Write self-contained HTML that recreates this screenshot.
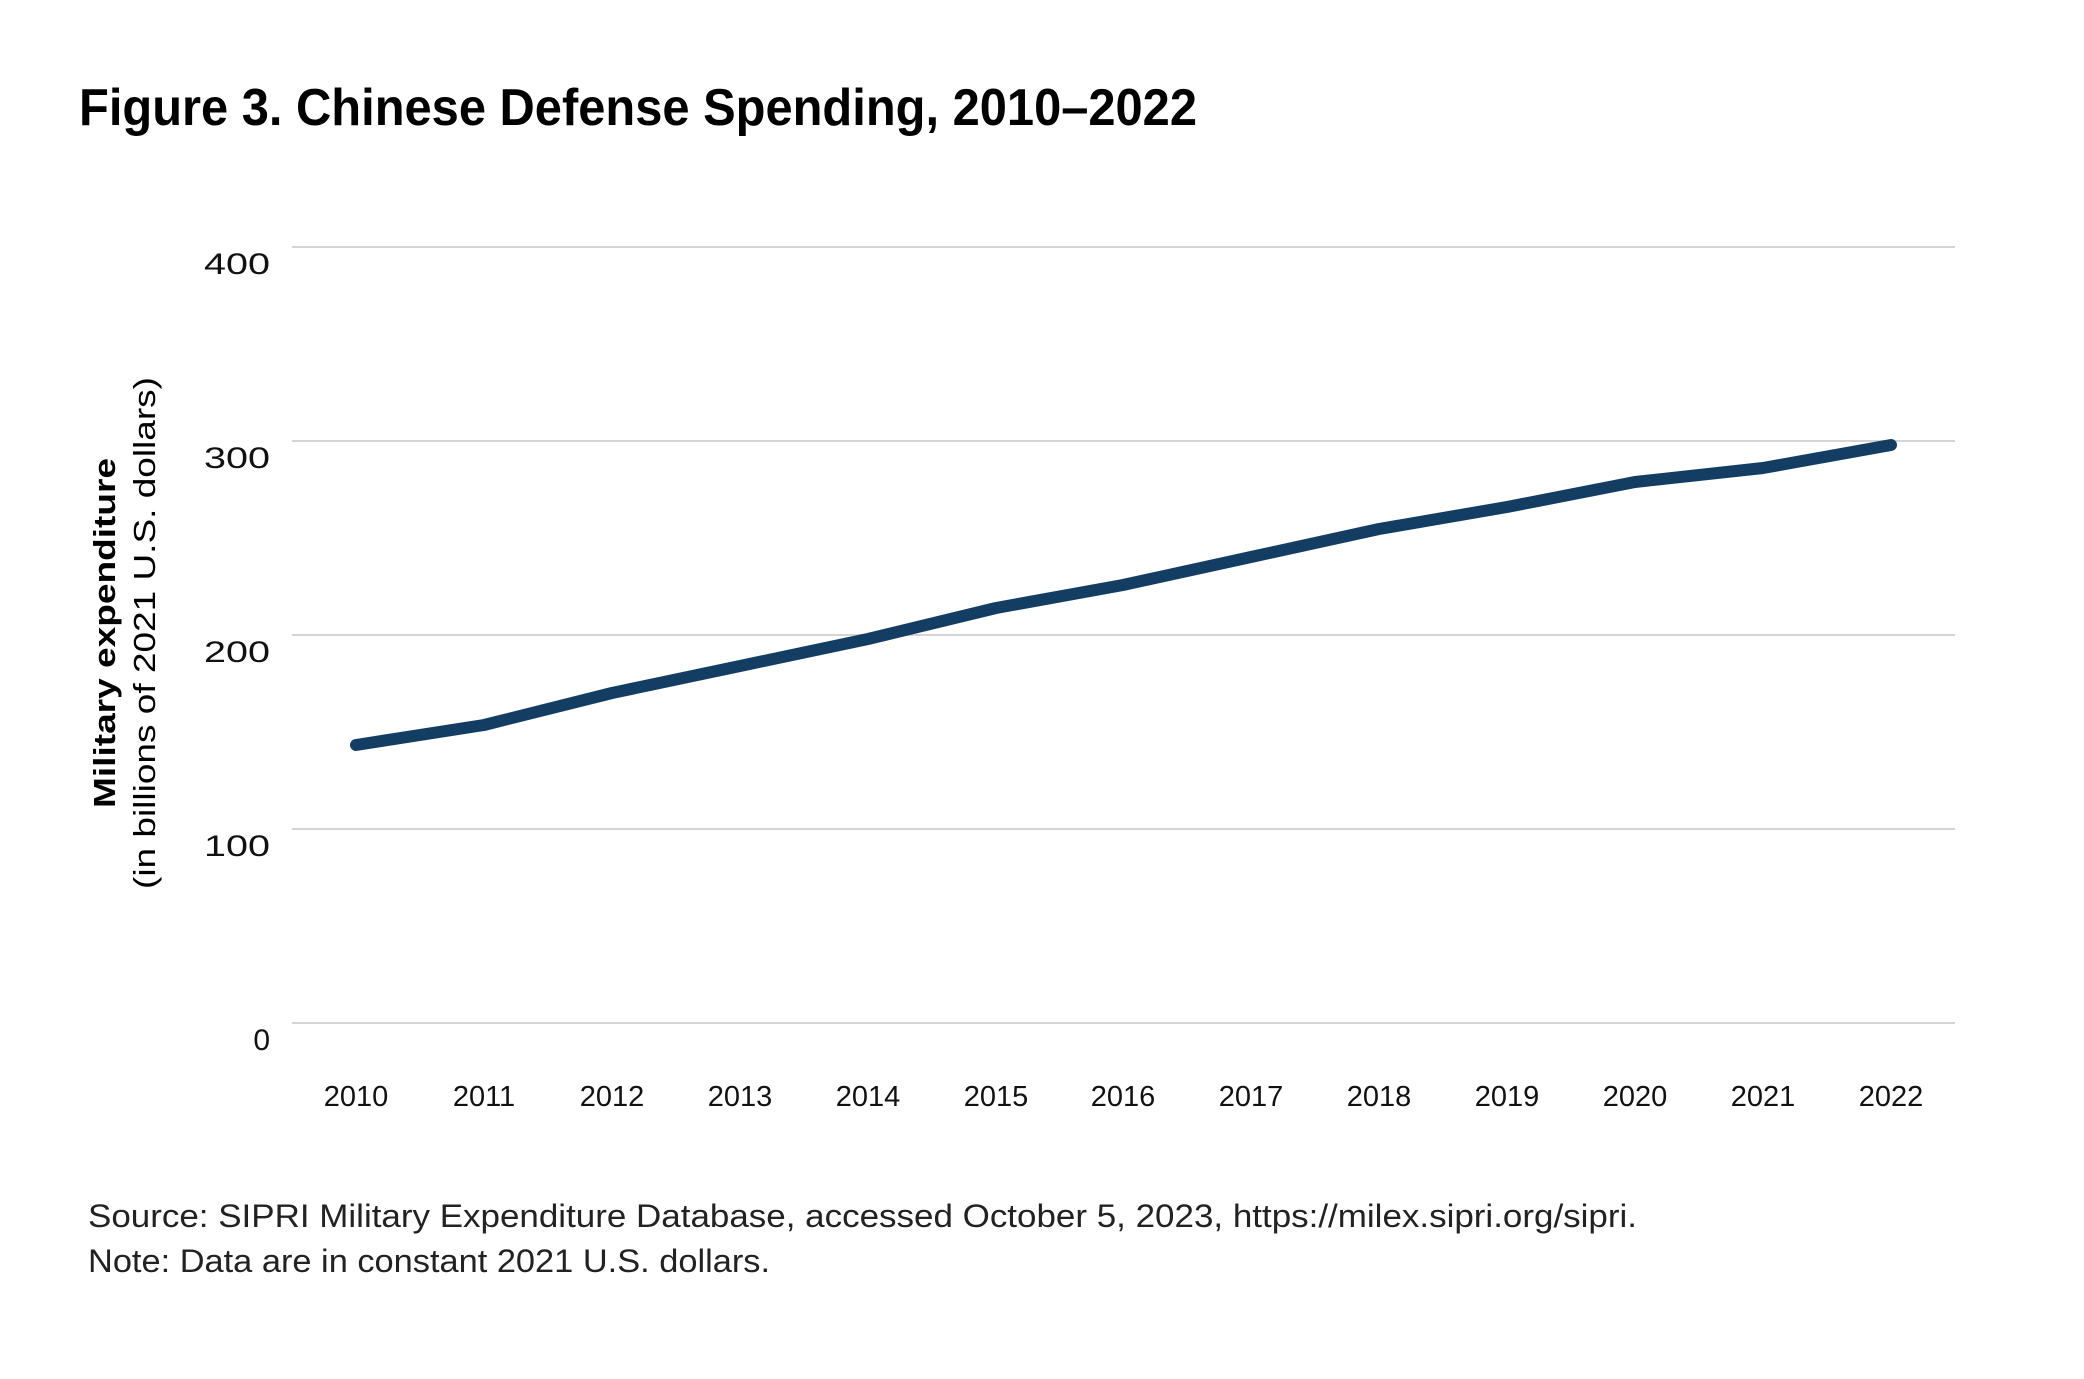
<!DOCTYPE html>
<html><head><meta charset="utf-8"><style>
html,body{margin:0;padding:0;background:#fff;}
svg{display:block;}
</style></head><body>
<svg width="2084" height="1379" viewBox="0 0 2084 1379" xmlns="http://www.w3.org/2000/svg" font-family="'Liberation Sans', sans-serif">
<rect width="2084" height="1379" fill="#fff"/>
<text x="79" y="125" font-family="'Liberation Sans Narrow','Liberation Sans',sans-serif" font-weight="bold" font-size="52" textLength="1118" lengthAdjust="spacingAndGlyphs" fill="#000">Figure 3. Chinese Defense Spending, 2010–2022</text>
<g stroke="#d4d4d4" stroke-width="2">
<line x1="292" y1="247" x2="1955" y2="247"/>
<line x1="292" y1="441" x2="1955" y2="441"/>
<line x1="292" y1="635" x2="1955" y2="635"/>
<line x1="292" y1="829" x2="1955" y2="829"/>
<line x1="292" y1="1023" x2="1955" y2="1023"/>
</g>
<g font-size="30" fill="#111" text-anchor="end">
<text x="270" y="274" textLength="66" lengthAdjust="spacingAndGlyphs">400</text>
<text x="270" y="468" textLength="66" lengthAdjust="spacingAndGlyphs">300</text>
<text x="270" y="662" textLength="66" lengthAdjust="spacingAndGlyphs">200</text>
<text x="270" y="856" textLength="66" lengthAdjust="spacingAndGlyphs">100</text>
<text x="270" y="1050">0</text>
</g>
<g transform="translate(115,633) rotate(-90)" text-anchor="middle" fill="#000">
<text x="0" y="0" font-size="31" font-weight="bold" textLength="350" lengthAdjust="spacingAndGlyphs">Military expenditure</text>
<text x="0" y="40" font-size="31" textLength="512" lengthAdjust="spacingAndGlyphs">(in billions of 2021 U.S. dollars)</text>
</g>
<g font-size="29" fill="#111" text-anchor="middle" font-family="'Liberation Sans Narrow','Liberation Sans',sans-serif">
<text x="356" y="1106">2010</text><text x="484" y="1106">2011</text><text x="612" y="1106">2012</text><text x="740" y="1106">2013</text><text x="868" y="1106">2014</text><text x="996" y="1106">2015</text><text x="1123" y="1106">2016</text><text x="1251" y="1106">2017</text><text x="1379" y="1106">2018</text><text x="1507" y="1106">2019</text><text x="1635" y="1106">2020</text><text x="1763" y="1106">2021</text><text x="1891" y="1106">2022</text>
</g>
<polyline fill="none" stroke="#143d63" stroke-width="12" stroke-linecap="round" stroke-linejoin="round"
points="356,745 484,725 612,693 740,666 868,639 996,608 1123,585 1251,557 1379,529 1507,507 1635,482 1763,468 1891,445"/>
<g font-size="32" fill="#222" font-family="'Liberation Sans Narrow','Liberation Sans',sans-serif">
<text x="88" y="1227" textLength="1549" lengthAdjust="spacingAndGlyphs">Source: SIPRI Military Expenditure Database, accessed October 5, 2023, https://milex.sipri.org/sipri.</text>
<text x="88" y="1272" textLength="682" lengthAdjust="spacingAndGlyphs">Note: Data are in constant 2021 U.S. dollars.</text>
</g>
</svg>
</body></html>
